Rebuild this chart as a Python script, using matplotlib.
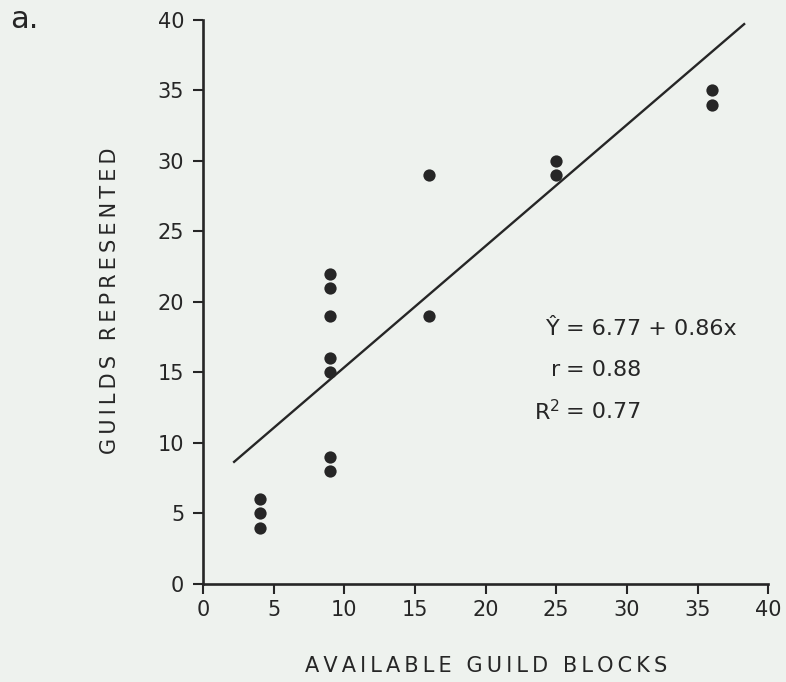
import numpy as np
from matplotlib import pyplot as plt

# data
blocks = [4, 4, 4, 9, 9, 9, 9, 9, 9, 9, 16, 16, 25, 25, 36, 36]
guilds = [6, 5, 4, 22, 21, 19, 16, 15, 9, 8, 29, 19, 30, 29, 35, 34]
intercept = 6.77
slope = 0.86
line_x = [2.2, 38.3]
ticks = [0, 5, 10, 15, 20, 25, 30, 35, 40]

bg = "#eef2ee"
ink = "#262626"
ts = "\u2009"  # thin space for the letter-spaced axis titles


def spaced(s):
    return (ts + " " + ts).join(ts.join(w) for w in s.split())


fig = plt.figure(figsize=(7.86, 6.82), dpi=100, facecolor=bg)
ax = fig.add_axes([0.2583, 0.1437, 0.719, 0.827], facecolor=bg)

ax.scatter(blocks, guilds, s=78, color=ink, zorder=3, linewidths=0)
lx = np.array(line_x)
ax.plot(lx, intercept + slope * lx, color=ink, lw=1.7)

ax.set_xlim(0, 40)
ax.set_ylim(0, 40)
ax.set_xticks(ticks)
ax.set_yticks(ticks)
for s in ["top", "right"]:
    ax.spines[s].set_visible(False)
for s in ["left", "bottom"]:
    ax.spines[s].set_color(ink)
    ax.spines[s].set_linewidth(1.9)
ax.tick_params(colors=ink, labelsize=15, length=7.5, width=1.5)
ax.tick_params(axis="y", pad=6)
ax.tick_params(axis="x", pad=4)

fig.text(0.618, 0.0235, spaced("AVAILABLE GUILD BLOCKS"), fontsize=15,
         color=ink, ha="center", va="center")
fig.text(0.14, 1 - 301 / 682, spaced("GUILDS REPRESENTED"), fontsize=15,
         color=ink, ha="center", va="center", rotation=90)

# equations aligned on the "=" sign
eq_x = 25.7
rows = [("Ŷ", "= 6.77 + 0.86x", 18.1),
        ("r", "= 0.88", 15.15),
        ("R$^2$", "= 0.77", 12.2)]
for left, right, y in rows:
    ax.text(eq_x - 0.45, y, left, fontsize=16, color=ink, ha="right", va="center")
    ax.text(eq_x, y, right, fontsize=16, color=ink, ha="left", va="center")

fig.text(0.013, 0.972, "a.", fontsize=22, color=ink, va="center")

fig.savefig("out.png", dpi=100, facecolor=bg)
